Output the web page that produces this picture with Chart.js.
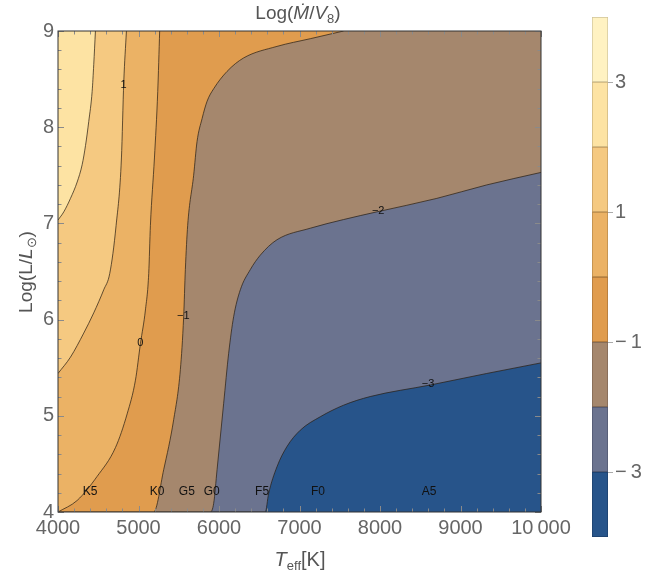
<!DOCTYPE html>
<html>
<head>
<meta charset="utf-8">
<script src="https://cdn.jsdelivr.net/npm/chart.js@4.4.1/dist/chart.umd.min.js"></script>
<style>
body{margin:0;background:#fff;}
#wrap{position:relative;width:654px;height:577px;}
#wrap canvas{position:absolute;left:0;top:0;}
</style>
</head>
<body>
<div id="wrap">
<canvas id="plot" width="654" height="577"></canvas>
<canvas id="bar" width="654" height="577"></canvas>
</div>
<script>
// axis ranges
const tMin=4000, tMax=10000, lMin=4, lMax=9;

// band edges of the colour legend and the colour of each band (low to high)
const bandEdges=[-4,-3,-2,-1,0,1,2,3,4];
const bandColors=['#27548a','#6b738f','#a5876d','#e09c4e','#ebb265','#f5c981','#fde3a3','#fff2c2'];
const bandEdgeColors=['#1d3f6a','#4f556d','#7d6552','#a8743a','#b4874a','#c09a60','#c8b27e','#cfc39a'];
const barTicks=[-3,-1,1,3];

// contour lines, [Teff, log L] pairs
const contourM3=[[6575,4.0],[6616,4.19],[6720,4.47],[6844,4.68],[7009,4.85],[7258,4.99],[7547,5.11],[7878,5.20],[8623,5.32],[9326,5.44],[10000,5.55]];
const contourM2=[[5893,4.0],[5934,4.09],[5976,4.44],[6058,5.13],[6120,5.65],[6182,6.03],[6265,6.31],[6389,6.52],[6513,6.67],[6720,6.83],[7134,6.95],[7547,7.04],[7961,7.12],[8706,7.26],[9326,7.40],[10000,7.53]];
const contourM1=[[5189,4.0],[5313,4.44],[5437,4.96],[5520,5.48],[5561,6.03],[5582,6.52],[5611,6.98],[5685,7.50],[5727,7.85],[5790,8.09],[5852,8.27],[5934,8.40],[6100,8.58],[6306,8.72],[6720,8.84],[7134,8.92],[7547,9.0]];
const contour0=[[4000,4.0],[4238,4.12],[4486,4.37],[4714,4.67],[4859,5.02],[4962,5.37],[5024,5.75],[5086,6.10],[5127,6.48],[5148,6.98],[5198,7.68],[5239,8.37],[5263,9.0]];
const contour1=[[4000,5.44],[4155,5.61],[4320,5.86],[4444,6.07],[4568,6.31],[4643,6.48],[4722,6.98],[4788,7.68],[4817,8.47],[4850,9.0]];
const contour2=[[4000,7.035],[4072,7.12],[4155,7.26],[4238,7.43],[4300,7.61],[4342,7.81],[4382,8.06],[4424,8.37],[4444,8.65],[4465,9.0]];
const contours=[contourM3,contourM2,contourM1,contour0,contour1,contour2];

// labels sitting on the contour lines
const contourLabelText=['1','0','\u22121','\u22122','\u22123'];
const contourLabelT=[4813,5024,5557,7977,8598];
const contourLabelL=[8.44,5.76,6.04,7.13,5.33];

// spectral types along the bottom
const specTypes=['K5','K0','G5','G0','F5','F0','A5'];
const specT=[4400,5230,5600,5910,6535,7230,8610];
const specL=[4.21,4.21,4.21,4.21,4.21,4.21,4.21];

const FONT='"Liberation Sans", Arial, sans-serif';

function fmtT(v){
  if(v>=10000){
    const s=String(v);
    return s.slice(0,s.length-3)+'\u2009'+s.slice(-3);
  }
  return String(v);
}

function drawRuns(ctx,runs,x,y){
  let w=0;
  runs.forEach(r=>{ctx.font=r.f;w+=ctx.measureText(r.t).width;});
  let cx=x-w/2;
  runs.forEach(r=>{
    ctx.font=r.f;
    ctx.fillText(r.t,cx,y+(r.dy||0));
    cx+=ctx.measureText(r.t).width;
  });
}

// fills: each dataset covers everything above/left of one contour
const datasets=[];
datasets.push({
  data:[{x:tMin,y:lMin},{x:tMax,y:lMin}],
  backgroundColor:bandColors[0],
  borderWidth:0,
  fill:'end',
  order:20
});
contours.forEach((c,i)=>{
  const pts=c.map(p=>({x:p[0],y:p[1]}));
  if(c[0][1]===lMin && c[0][0]>tMin) pts.unshift({x:tMin,y:lMin});
  datasets.push({
    data:pts,
    backgroundColor:bandColors[i+1],
    borderColor:'rgba(40,30,20,0.8)',
    borderWidth:0.9,
    fill:'end',
    cubicInterpolationMode:'monotone',
    order:19-i
  });
});

const overlay={
  id:'overlay',
  afterDatasetsDraw(chart){
    const {ctx,chartArea:a,scales:{x,y}}=chart;
    ctx.save();
    // contour labels
    ctx.fillStyle='#111';
    ctx.font='11px '+FONT;
    ctx.textAlign='center';
    ctx.textBaseline='middle';
    contourLabelText.forEach((t,i)=>{
      ctx.fillText(t,x.getPixelForValue(contourLabelT[i]),y.getPixelForValue(contourLabelL[i]));
    });
    ctx.font='12px '+FONT;
    specTypes.forEach((t,i)=>{
      ctx.fillText(t,x.getPixelForValue(specT[i]),y.getPixelForValue(specL[i]));
    });
    // inward frame ticks
    ctx.strokeStyle='#8a8a8a';
    ctx.lineWidth=1;
    ctx.beginPath();
    for(let v=tMin;v<=tMax;v+=200){
      const px=Math.round(x.getPixelForValue(v))+0.5;
      const len=(v%1000===0)?6:3.5;
      ctx.moveTo(px,a.bottom);ctx.lineTo(px,a.bottom-len);
      ctx.moveTo(px,a.top);ctx.lineTo(px,a.top+len);
    }
    for(let k=0;k<=25;k++){
      const v=lMin+k*0.2;
      const py=Math.round(y.getPixelForValue(v))+0.5;
      const len=(k%5===0)?6:3.5;
      ctx.moveTo(a.left,py);ctx.lineTo(a.left+len,py);
      ctx.moveTo(a.right,py);ctx.lineTo(a.right-len,py);
    }
    ctx.stroke();
    // frame
    ctx.strokeStyle='#333';
    ctx.strokeRect(a.left,a.top,a.right-a.left,a.bottom-a.top);
    ctx.restore();
  },
  afterDraw(chart){
    const {ctx}=chart;
    ctx.save();
    ctx.fillStyle='#555';
    ctx.textBaseline='alphabetic';
    ctx.textAlign='left';
    drawRuns(ctx,[
      {t:'Log(',f:'19px '+FONT},
      {t:'\u1E40',f:'italic 19px '+FONT},
      {t:'/',f:'19px '+FONT},
      {t:'V',f:'italic 19px '+FONT},
      {t:'8',f:'13px '+FONT,dy:4},
      {t:')',f:'19px '+FONT}
    ],298,19);
    drawRuns(ctx,[
      {t:'T',f:'italic 20px '+FONT},
      {t:'eff',f:'13px '+FONT,dy:4},
      {t:'[K]',f:'20px '+FONT}
    ],300,566);
    ctx.translate(32,272);
    ctx.rotate(-Math.PI/2);
    drawRuns(ctx,[
      {t:'Log(L/',f:'19px '+FONT},
      {t:'L',f:'italic 19px '+FONT},
      {t:'\u2299',f:'13px '+FONT,dy:4},
      {t:')',f:'19px '+FONT}
    ],0,0);
    ctx.restore();
  }
};

new Chart(document.getElementById('plot'),{
  type:'line',
  data:{datasets:datasets},
  options:{
    responsive:false,
    animation:false,
    events:[],
    layout:{padding:{left:0,top:31,right:113,bottom:0}},
    elements:{point:{radius:0}},
    plugins:{legend:{display:false},tooltip:{enabled:false}},
    scales:{
      x:{
        type:'linear',min:tMin,max:tMax,
        afterFit(s){s.height=65;},
        grid:{display:false,drawTicks:false},
        border:{display:false},
        ticks:{stepSize:1000,padding:4,color:'#666',font:{family:FONT,size:20},callback:v=>fmtT(v),maxRotation:0,autoSkip:false}
      },
      y:{
        type:'linear',min:lMin,max:lMax,
        afterFit(s){s.width=58;},
        grid:{display:false,drawTicks:false},
        border:{display:false},
        ticks:{stepSize:1,padding:4,color:'#666',font:{family:FONT,size:20}}
      }
    }
  },
  plugins:[overlay]
});

new Chart(document.getElementById('bar'),{
  type:'bar',
  data:{
    labels:[''],
    datasets:bandColors.map((c,i)=>({
      data:[[bandEdges[i],bandEdges[i+1]]],
      backgroundColor:c,
      borderColor:bandEdgeColors[i],
      borderWidth:1,
      borderSkipped:false,
      grouped:false,
      barPercentage:1,
      categoryPercentage:1
    }))
  },
  options:{
    responsive:false,
    animation:false,
    events:[],
    layout:{padding:{left:592,top:17,right:0,bottom:40}},
    plugins:{legend:{display:false},tooltip:{enabled:false}},
    scales:{
      x:{display:false},
      y:{
        position:'right',min:-4,max:4,
        afterFit(s){s.width=46;},
        afterBuildTicks(s){s.ticks=barTicks.map(v=>({value:v}));},
        grid:{drawOnChartArea:false,drawTicks:true,tickLength:5,color:'#aaa'},
        border:{display:false},
        ticks:{padding:2,color:'#666',font:{family:FONT,size:20},callback:v=>v<0?'\u2212\u2009'+Math.abs(v):String(v)}
      }
    }
  }
});
</script>
</body>
</html>
